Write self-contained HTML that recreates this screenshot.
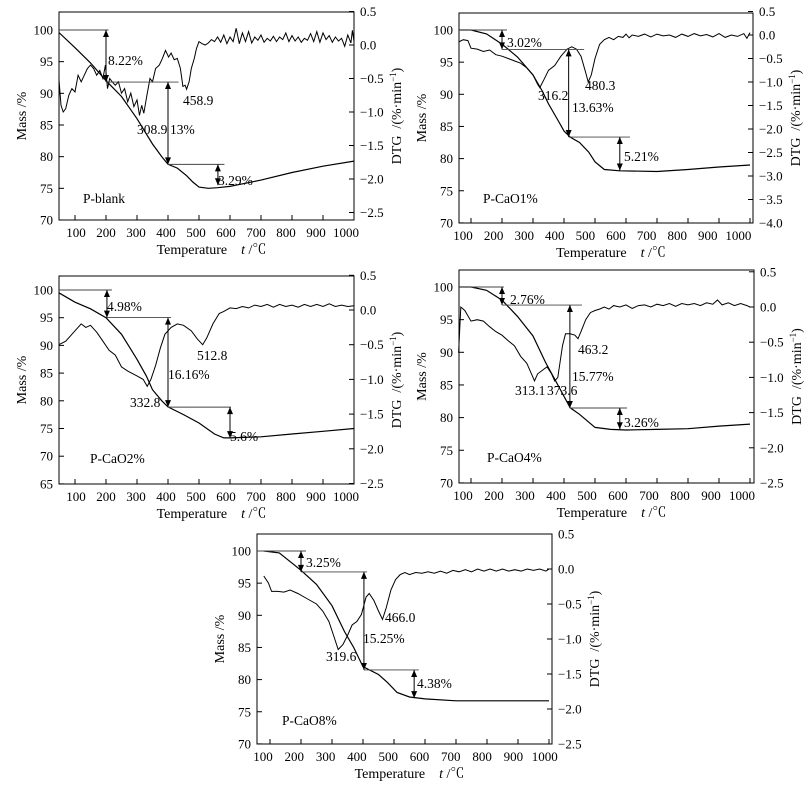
<!DOCTYPE html>
<html><head><meta charset="utf-8"><style>
html,body{margin:0;padding:0;background:#fff;}
svg{display:block;font-family:"Liberation Serif","Noto Serif CJK SC",serif;}
</style></head><body>
<svg id="fig" width="811" height="790" viewBox="0 0 811 790" xmlns="http://www.w3.org/2000/svg"></svg>
<script>
// ---- data ----
const tickTemps = [100,200,300,400,500,600,700,800,900,1000];
const p1Mass = [[48,99.6],[100,97.2],[150,94.8],[200,92],[250,89.5],[300,86],[350,82],[380,80],[400,78.8],[430,78.2],[460,77],[480,76],[500,75.2],[530,75],[560,75.1],[600,75.3],[700,76.3],[800,77.5],[900,78.5],[1000,79.3]];
const p1Dtg = [[48,-0.5],[55,-0.9],[62,-1.0],[70,-0.95],[80,-0.75],[90,-0.65],[100,-0.7],[110,-0.45],[120,-0.55],[130,-0.45],[140,-0.35],[150,-0.3],[160,-0.35],[170,-0.45],[180,-0.38],[190,-0.5],[198,-0.3],[205,-0.65],[212,-0.5],[220,-0.55],[230,-0.6],[240,-0.55],[250,-0.72],[260,-0.65],[270,-0.85],[280,-0.72],[290,-0.92],[300,-0.82],[308,-1.05],[315,-0.9],[322,-1.02],[332,-0.75],[342,-0.5],[350,-0.55],[360,-0.35],[372,-0.3],[382,-0.2],[392,-0.08],[402,-0.18],[410,-0.12],[420,-0.22],[430,-0.2],[440,-0.35],[448,-0.62],[455,-0.6],[460,-0.66],[468,-0.55],[475,-0.35],[485,-0.2],[492,-0.05],[500,0.05],[510,0.02],[520,0.0],[530,0.03],[540,0.08],[550,0.05],[560,0.12],[570,0.04],[580,0.15],[590,0.02],[600,0.12],[610,0.05],[620,0.25],[630,0.02],[640,0.18],[650,0.05],[660,0.2],[670,0.03],[680,0.12],[690,0.07],[700,0.15],[710,0.04],[720,0.1],[730,0.06],[740,0.13],[750,0.05],[760,0.12],[770,0.08],[780,0.18],[790,0.05],[800,0.14],[810,0.06],[820,0.12],[830,0.04],[840,0.1],[850,0.07],[860,0.17],[870,0.05],[880,0.2],[890,0.04],[900,0.18],[910,0.08],[920,0.14],[930,0.04],[940,0.12],[950,0.06],[960,0.1],[970,-0.02],[980,0.15],[990,0.03],[995,0.22],[1000,0.05]];
const p2Mass = [[60,100],[100,100],[150,99.4],[200,97.8],[250,95.8],[300,93],[330,90.5],[350,88.5],[380,86],[400,84.3],[420,83.35],[450,82.5],[480,81],[500,79.5],[530,78.3],[580,78.1],[700,78.0],[800,78.3],[900,78.7],[1000,79.0]];
const p2Dtg = [[60,-0.15],[75,-0.1],[90,-0.12],[100,-0.28],[120,-0.3],[140,-0.35],[160,-0.32],[180,-0.42],[200,-0.45],[220,-0.5],[240,-0.55],[260,-0.6],[280,-0.7],[300,-0.85],[315,-1.05],[322,-1.12],[335,-0.95],[350,-0.75],[370,-0.65],[390,-0.45],[410,-0.3],[425,-0.25],[440,-0.3],[455,-0.45],[470,-0.8],[478,-1.0],[488,-0.85],[500,-0.5],[515,-0.2],[530,-0.1],[545,-0.05],[560,-0.1],[575,-0.03],[590,-0.05],[600,0.02],[610,-0.06],[620,0.0],[640,-0.03],[660,0.02],[680,-0.04],[700,0.02],[720,-0.02],[740,0.0],[760,-0.05],[780,0.02],[800,-0.03],[820,0.03],[840,-0.02],[860,0.01],[880,-0.04],[900,0.03],[920,-0.05],[940,0.0],[960,-0.03],[980,0.03],[990,-0.07],[1000,0.05]];
const p3Mass = [[48,99.5],[100,97.8],[150,96.6],[200,95],[250,92],[300,87.5],[330,84.5],[350,82],[380,80],[400,78.9],[450,77.5],[500,76],[550,74],[580,73.3],[600,73.3],[700,73.5],[800,74],[900,74.5],[1000,75]];
const p3Dtg = [[48,-0.5],[70,-0.45],[100,-0.3],[120,-0.2],[135,-0.25],[150,-0.22],[170,-0.32],[190,-0.45],[210,-0.58],[230,-0.65],[250,-0.82],[270,-0.88],[300,-0.95],[320,-1.0],[333,-1.1],[345,-1.0],[360,-0.8],[375,-0.55],[390,-0.35],[410,-0.25],[430,-0.2],[450,-0.22],[475,-0.3],[495,-0.42],[512,-0.5],[525,-0.4],[545,-0.2],[565,-0.05],[580,-0.02],[600,0.03],[620,0.02],[640,0.05],[660,0.03],[680,0.07],[700,0.05],[720,0.08],[740,0.04],[760,0.08],[780,0.05],[800,0.07],[820,0.04],[840,0.08],[860,0.05],[880,0.08],[900,0.05],[920,0.09],[940,0.05],[960,0.07],[980,0.05],[1000,0.06]];
const p4Mass = [[60,100],[100,100],[150,99.5],[200,98],[250,95.5],[300,92.5],[340,88.5],[380,85],[420,81.5],[450,80.5],[500,78.5],[550,78.2],[600,78.1],[700,78.2],[800,78.3],[900,78.7],[1000,79]];
const p4Dtg = [[60,-0.65],[67,0.0],[80,-0.05],[100,-0.2],[120,-0.18],[140,-0.2],[160,-0.28],[180,-0.35],[200,-0.4],[220,-0.48],[240,-0.55],[260,-0.7],[280,-0.8],[295,-0.95],[305,-1.05],[315,-0.95],[330,-0.9],[345,-0.85],[360,-0.95],[370,-1.05],[380,-1.0],[395,-0.55],[405,-0.38],[420,-0.38],[435,-0.4],[445,-0.45],[455,-0.35],[470,-0.18],[485,-0.08],[500,-0.05],[515,-0.03],[530,0.0],[545,-0.03],[560,0.02],[580,0.0],[600,0.03],[620,-0.02],[640,0.02],[660,0.03],[680,0.0],[700,0.04],[720,0.02],[740,0.05],[760,0.01],[780,0.05],[800,0.03],[820,0.05],[840,0.02],[860,0.06],[880,0.04],[895,0.1],[910,0.03],[930,0.06],[950,0.02],[970,0.05],[990,0.02],[1000,0.0]];
const p5Mass = [[80,100],[130,99.7],[200,97],[250,94.8],[300,91.5],[340,87.5],[370,85],[400,82],[450,80.8],[480,79.5],[510,78],[550,77.3],[600,77],[700,76.7],[800,76.7],[1000,76.7]];
const p5Dtg = [[80,-0.1],[95,-0.2],[105,-0.32],[125,-0.32],[145,-0.33],[165,-0.3],[190,-0.35],[210,-0.4],[230,-0.45],[250,-0.5],[270,-0.6],[290,-0.75],[305,-0.95],[320,-1.15],[335,-1.08],[350,-0.95],[365,-0.8],[380,-0.75],[395,-0.65],[410,-0.4],[420,-0.35],[435,-0.45],[450,-0.6],[463,-0.72],[475,-0.55],[490,-0.3],[505,-0.15],[520,-0.08],[535,-0.05],[550,-0.08],[570,-0.05],[590,-0.06],[610,-0.04],[630,-0.06],[650,-0.03],[670,-0.06],[690,-0.02],[710,-0.04],[730,-0.01],[750,-0.04],[770,0.0],[790,-0.03],[810,0.0],[830,-0.03],[850,0.0],[870,-0.03],[890,-0.01],[910,-0.03],[930,0.0],[950,-0.02],[970,0.0],[990,-0.03],[1000,0.0]];
const p1Steps = [200,400,561], p1Levels = [100,91.78,78.78,75.49], p1HEnd = [208,434,582];
const p2Steps = [200,415,580], p2Levels = [100,96.98,83.35,78.14], p2HEnd = [216,465,613];
const p3Steps = [203,400,600], p3Levels = [100,95.02,78.86,73.26], p3HEnd = [219,410,603];
const p4Steps = [200,419,580], p4Levels = [100,97.24,81.47,78.21], p4HEnd = [206,458,603];
const p5Steps = [200,403,565], p5Levels = [100,96.75,81.5,77.12], p5HEnd = [216,413,580];
const massTicks1 = [70,75,80,85,90,95,100], massTicks3 = [65,70,75,80,85,90,95,100];
const dtgTicks1 = [0.5,0,-0.5,-1,-1.5,-2,-2.5];
const dtgTicks2 = [0.5,0,-0.5,-1,-1.5,-2,-2.5,-3,-3.5,-4];

const NS = "http://www.w3.org/2000/svg";
const svg = document.getElementById('fig');
function mk(tag, attrs, parent){const e=document.createElementNS(NS,tag);for(const k in attrs)e.setAttribute(k,attrs[k]);(parent||svg).appendChild(e);return e;}
function fmt(v){ if(v===0) return "0.0"; const s=Math.abs(v).toFixed(1); return (v<0?"\u2212":"")+s; }

function panel(cfg){
  const g = mk('g',{});
  
  
  const [L,T,R,B] = cfg.box;
  const X = t => cfg.x0 + (t-100)*cfg.xs;
  const YM = m => cfg.m100 + (100-m)*cfg.ms;
  const YD = v => cfg.d0 - v*cfg.ds;
  const frame = mk('rect',{x:L,y:T,width:R-L,height:B-T,fill:'none',stroke:'#000','stroke-width':1},g);
  
  
  // x ticks
  tickTemps.forEach((t,i)=>{
    if (X(t) < R-1) mk('line',{x1:X(t),x2:X(t),y1:B,y2:B-5,stroke:'#000','stroke-width':1},g);
    const lbl = mk('text',{x:cfg.lx0 + i*cfg.lxs, y:B+17,'font-size':13,'text-anchor':'middle'},g);
    lbl.textContent = t;
    
    
  });
  cfg.massTicks.forEach(m=>{
    mk('line',{x1:L,x2:L+5,y1:YM(m),y2:YM(m),stroke:'#000'},g);
    const lbl = mk('text',{x:L-6,y:YM(m)+4.5,'font-size':13,'text-anchor':'end'},g);
    lbl.textContent = m;
    
    
  });
  cfg.dtgTicks.forEach(v=>{
    mk('line',{x1:R,x2:R-5,y1:YD(v),y2:YD(v),stroke:'#000'},g);
    const lbl = mk('text',{x:R+6,y:YD(v)+4.5,'font-size':13},g);
    lbl.textContent = fmt(v);
    
    
  });
  // axis titles
  const yt = mk('text',{transform:`translate(${L-33},${(T+B)/2}) rotate(-90)`,'font-size':14,'text-anchor':'middle'},g);
  yt.textContent = 'Mass /%';
  
  
  const rt = mk('text',{transform:`translate(${R+47},${(T+B)/2}) rotate(-90)`,'font-size':14,'text-anchor':'middle'},g);
  rt.innerHTML = 'DTG &#160;/(%·min<tspan dy="-5" font-size="9">−1</tspan><tspan dy="5">)</tspan>';
  
  
  const xt = mk('text',{x:(L+R)/2+5,y:B+34,'font-size':14,'text-anchor':'middle'},g);
  xt.innerHTML = 'Temperature &#160;&#160;&#160;<tspan font-style="italic">t</tspan> /℃';
  
  
  // curves
  const mp = mk('path',{d:cfg.mass.map((p,i)=>(i?'L':'M')+X(p[0]).toFixed(1)+' '+YM(p[1]).toFixed(1)).join(' '),fill:'none',stroke:'#000','stroke-width':1.2},g);
  
  
  const dp = mk('path',{d:cfg.dtg.map((p,i)=>(i?'L':'M')+X(p[0]).toFixed(1)+' '+YD(p[1]).toFixed(1)).join(' '),fill:'none',stroke:'#000','stroke-width':1},g);
  
  
  // annotations
  cfg.steps.forEach((t,i)=>{
    const x1 = i===0 ? L : X(cfg.steps[i-1]);
    const h = mk('line',{x1:x1,x2:X(cfg.hEnd[i]),y1:YM(cfg.levels[i]),y2:YM(cfg.levels[i]),stroke:'#444','stroke-width':0.9},g);
    
    
    const ya=YM(cfg.levels[i]), yb=YM(cfg.levels[i+1]), x=X(t);
    const v = mk('line',{x1:x,x2:x,y1:ya,y2:yb,stroke:'#000','stroke-width':1},g);
    
    
    mk('path',{d:`M${x} ${ya} l-3 7 l6 0 z M${x} ${yb} l-3 -7 l6 0 z`,fill:'#000'},g);
  });
  cfg.labels.forEach(l=>{
    const tx = mk('text',{x:l[1],y:l[2],'font-size':13.5},g);
    tx.textContent = l[0];
    
    
  });
}

panel({name:'panel-p-blank',box:[59,12,354,220],x0:75,xs:0.31,m100:30,ms:6.333,d0:45,ds:67,lx0:76,lxs:30,
  massTicks:massTicks1,dtgTicks:dtgTicks1,mass:p1Mass,dtg:p1Dtg,steps:p1Steps,levels:p1Levels,hEnd:p1HEnd,
  labels:[['8.22%',108,65],['13%',170,134],['3.29%',218,185],['308.9',137,134],['458.9',183,105],['P-blank',83,203]]});
panel({name:'panel-p-cao1',box:[459,13,753,223],x0:471,xs:0.31,m100:30,ms:6.43,d0:35,ds:47,lx0:463,lxs:30.6,
  massTicks:massTicks1,dtgTicks:dtgTicks2,mass:p2Mass,dtg:p2Dtg,steps:p2Steps,levels:p2Levels,hEnd:p2HEnd,
  labels:[['3.02%',507,47],['316.2',538,100],['480.3',585,90],['13.63%',572,112],['5.21%',624,161],['P-CaO1%',483,203]]});
panel({name:'panel-p-cao2',box:[59,276,354,484],x0:75,xs:0.31,m100:290,ms:5.54,d0:310,ds:69.4,lx0:76,lxs:30,
  massTicks:massTicks3,dtgTicks:dtgTicks1,mass:p3Mass,dtg:p3Dtg,steps:p3Steps,levels:p3Levels,hEnd:p3HEnd,
  labels:[['4.98%',107,311],['16.16%',168,379],['332.8',130,407],['512.8',197,360],['5.6%',230,441],['P-CaO2%',90,463]]});
panel({name:'panel-p-cao4',box:[459,270,754,483],x0:471,xs:0.31,m100:287,ms:6.53,d0:307,ds:70.4,lx0:463,lxs:31,
  massTicks:massTicks1,dtgTicks:dtgTicks1,mass:p4Mass,dtg:p4Dtg,steps:p4Steps,levels:p4Levels,hEnd:p4HEnd,
  labels:[['2.76%',510,304],['463.2',578,354],['15.77%',572,381],['313.1',515,395],['373.6',547,395],['3.26%',624,427],['P-CaO4%',487,462]]});
panel({name:'panel-p-cao8',box:[257,534,552,744],x0:270,xs:0.31,m100:551,ms:6.43,d0:569,ds:70,lx0:263,lxs:31.3,
  massTicks:massTicks1,dtgTicks:dtgTicks1,mass:p5Mass,dtg:p5Dtg,steps:p5Steps,levels:p5Levels,hEnd:p5HEnd,
  labels:[['3.25%',306,567],['466.0',385,622],['15.25%',363,643],['319.6',326,661],['4.38%',417,688],['P-CaO8%',282,725]]});
</script>
</body></html>
